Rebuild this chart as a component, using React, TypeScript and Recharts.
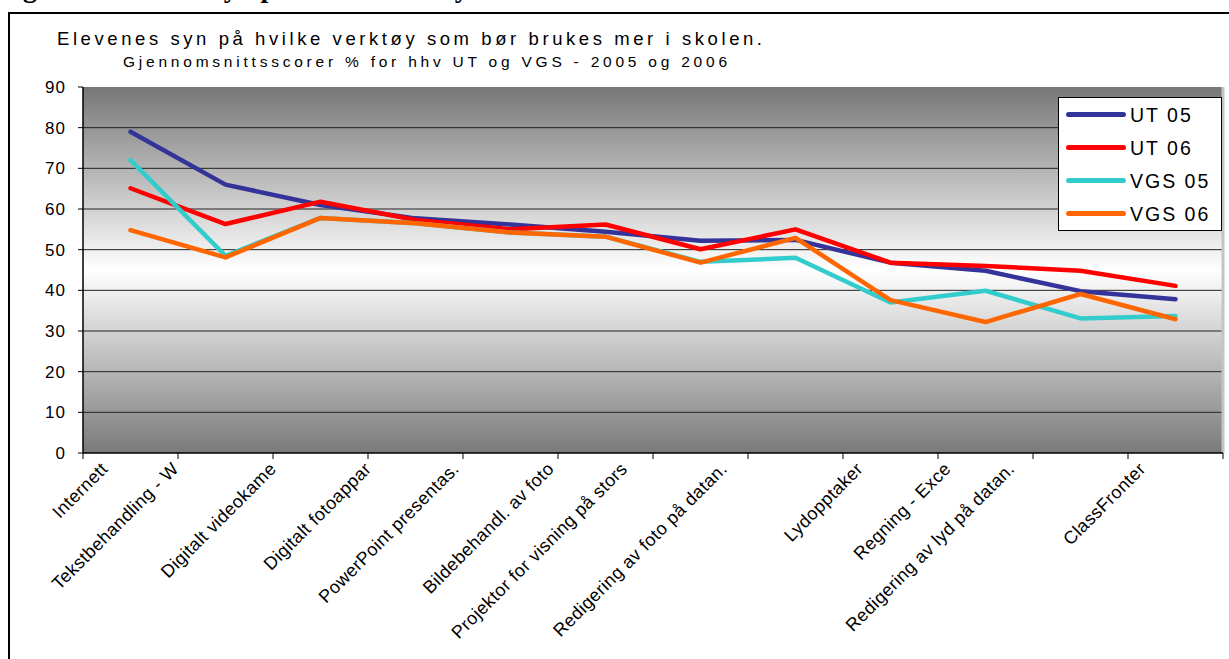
import React from 'react';
import { LineChart, Line, XAxis, YAxis, CartesianGrid, Legend, ReferenceLine } from 'recharts';

const CATEGORIES = [
  'Internett',
  'Tekstbehandling - W',
  'Digitalt videokame',
  'Digitalt fotoappar',
  'PowerPoint presentas.',
  'Bildebehandl. av foto',
  'Projektor for visning på stors',
  'Redigering av foto på datan.',
  'Lydopptaker',
  'Regning - Exce',
  'Redigering av lyd på datan.',
  'ClassFronter',
];

const UT05 = [79, 66, 61, 57.7, 56.2, 54.4, 52.2, 52.4, 46.8, 44.8, 39.8, 37.8];
const UT06 = [65.1, 56.3, 61.8, 57.3, 55, 56.2, 50.1, 55, 46.8, 46, 44.8, 41.1];
const VGS05 = [72, 48.5, 57.8, 56.5, 54.2, 53.2, 47, 48, 37, 39.9, 33.1, 33.7];
const VGS06 = [54.8, 48.1, 57.8, 56.5, 54.2, 53.2, 46.8, 52.9, 37.6, 32.2, 39.1, 32.9];

const Y_TICKS = [0, 10, 20, 30, 40, 50, 60, 70, 80, 90];
const GRID_VALUES = [10, 20, 30, 40, 50, 60, 70, 80];
const X_TICKS = [0, 0.5, 1, 1.5, 2, 2.5, 3, 3.5, 4, 4.5, 5, 5.5, 6, 6.5, 7, 7.5, 8, 8.5, 9, 9.5, 10, 10.5, 11, 11.5, 12];

const TITLE = 'Elevenes syn på hvilke verktøy som bør brukes mer i skolen.';
const SUBTITLE = 'Gjennomsnittsscorer % for hhv UT og VGS - 2005 og 2006';
const CAPTION = 'Figur 9: Elevenes syn på hvilke verktøy som bør brukes mer i skolen';

const SERIES = [
  { key: 'ut05', name: 'UT 05', color: '#333399' },
  { key: 'ut06', name: 'UT 06', color: '#FF0000' },
  { key: 'vgs05', name: 'VGS 05', color: '#33CCCC' },
  { key: 'vgs06', name: 'VGS 06', color: '#FF6600' },
];

const data = CATEGORIES.map((c, i) => ({
  name: c,
  pos: i + 0.5,
  ut05: UT05[i],
  ut06: UT06[i],
  vgs05: VGS05[i],
  vgs06: VGS06[i],
}));

const FONT = "'Liberation Sans', Arial, sans-serif";

const XTick = (props: any) => {
  const { x, y, payload } = props;
  const v = payload.value;
  if (Number.isInteger(v)) {
    return <line x1={x} x2={x} y1={y} y2={y + 6} stroke="#000" strokeWidth={1} />;
  }
  const label = CATEGORIES[Math.floor(v)];
  const px = x - 2.4 * label.length;
  const py = y + 17;
  return (
    <text
      x={px}
      y={py}
      transform={`rotate(-45 ${px} ${py})`}
      textAnchor="end"
      fontSize={18}
      fontFamily={FONT}
      fill="#000"
      letterSpacing={0.4}
    >
      {label}
    </text>
  );
};

const LegendBox = () => (
  <div
    style={{
      width: 164,
      height: 134,
      background: '#fff',
      border: '1px solid #000',
      boxSizing: 'border-box',
      fontFamily: FONT,
    }}
  >
    {SERIES.map((s) => (
      <div key={s.key} style={{ display: 'flex', alignItems: 'center', height: 33 }}>
        <div style={{ width: 60, height: 5, background: s.color, borderRadius: 3, marginLeft: 7 }} />
        <span style={{ marginLeft: 4, fontSize: 19.5, letterSpacing: 2, color: '#000', lineHeight: '20px' }}>{s.name}</span>
      </div>
    ))}
  </div>
);

export default function App() {
  return (
    <div style={{ position: 'absolute', left: 0, top: 0, width: 1229, height: 659, overflow: 'hidden', background: '#fff' }}>
      <div
        style={{
          position: 'absolute',
          left: 8,
          top: 12,
          width: 1260,
          height: 700,
          border: '2px solid #000',
          boxSizing: 'border-box',
        }}
      />
      <svg style={{ position: 'absolute', left: 0, top: 0 }} width={1229} height={80}>
        <text x={-2} y={-3} fontFamily="'Liberation Serif', 'Times New Roman', serif" fontWeight="bold" fontSize={28} fill="#000">
          {CAPTION}
        </text>
        <text x={57} y={45} fontFamily={FONT} fontSize={18.5} fill="#000" textLength={705} lengthAdjust="spacing">
          {TITLE}
        </text>
        <text x={123} y={67} fontFamily={FONT} fontSize={15.5} fill="#000" textLength={604} lengthAdjust="spacing">
          {SUBTITLE}
        </text>
      </svg>
      <div style={{ position: 'absolute', left: 0, top: 0 }}>
        <LineChart width={1229} height={659} data={data} margin={{ top: 87, right: 6, left: 23, bottom: 56 }}>
          <defs>
            <linearGradient id="plotBg" x1="0" y1="0" x2="0" y2="1">
              <stop offset="0%" stopColor="#777777" />
              <stop offset="50%" stopColor="#ffffff" />
              <stop offset="100%" stopColor="#7a7a7a" />
            </linearGradient>
          </defs>
          <CartesianGrid
            vertical={false}
            horizontalValues={GRID_VALUES}
            stroke="#222"
            strokeWidth={1}
            fill="url(#plotBg)"
            fillOpacity={1}
          />
          <XAxis
            type="number"
            dataKey="pos"
            domain={[0, 12]}
            ticks={X_TICKS}
            interval={0}
            tickLine={false}
            tickSize={0}
            tickMargin={0}
            axisLine={{ stroke: '#000', strokeWidth: 1.5 }}
            tick={XTick}
            height={150}
          />
          <YAxis
            type="number"
            domain={[0, 90]}
            ticks={Y_TICKS}
            interval={0}
            width={60}
            tickSize={5}
            tickMargin={12}
            tickLine={{ stroke: '#000' }}
            axisLine={{ stroke: '#000', strokeWidth: 1.5 }}
            tick={{ fill: '#000', fontSize: 17, fontFamily: FONT, letterSpacing: 1 }}
          />
          <ReferenceLine x={12} stroke="#c4c4c4" strokeWidth={3} ifOverflow="extendDomain" />
          {SERIES.map((s) => (
            <Line
              key={s.key}
              type="linear"
              dataKey={s.key}
              name={s.name}
              stroke={s.color}
              strokeWidth={4.5}
              strokeLinejoin="round"
              strokeLinecap="round"
              dot={false}
              activeDot={false}
              isAnimationActive={false}
            />
          ))}
          <Legend
            layout="horizontal"
            verticalAlign="middle"
            align="center"
            content={LegendBox}
            wrapperStyle={{ left: 1058, top: 97, width: 164, height: 134 }}
          />
        </LineChart>
      </div>
    </div>
  );
}
